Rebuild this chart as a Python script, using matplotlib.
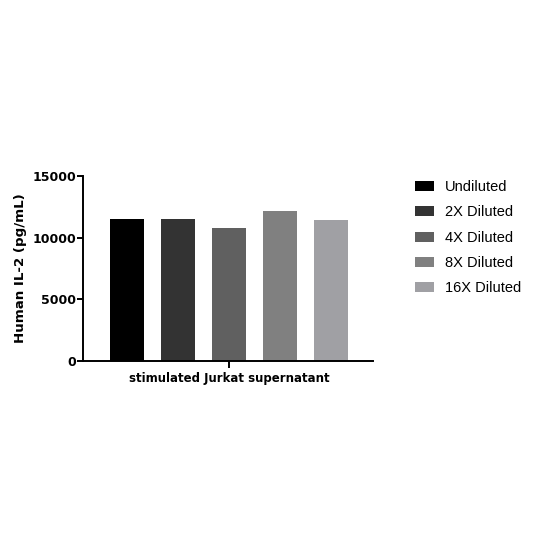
import matplotlib
matplotlib.use('Agg')
import matplotlib.pyplot as plt
import numpy as np

# data
group = 'stimulated Jurkat supernatant'
series = ['Undiluted', '2X Diluted', '4X Diluted', '8X Diluted', '16X Diluted']
values = [11500, 11500, 10800, 12150, 11450]
colors = ['#000000', '#333333', '#606060', '#808080', '#a0a0a4']
yticks = [0, 5000, 10000, 15000]

fig = plt.figure(figsize=(5.48, 5.48), dpi=100)
ax = fig.add_axes([0.1515, 0.3412, 0.5292, 0.3376])

offsets = np.arange(len(series)) - (len(series) - 1) / 2
handles = []
for off, name, val, c in zip(offsets, series, values, colors):
    h = ax.bar(off, val, width=0.667, color=c, label=name)
    handles.append(h)

ax.set_xlim(-2.86, 2.82)
ax.set_ylim(0, 15000)
ax.set_xticks([0])
ax.set_xticklabels([group], fontsize=8.5, fontweight='bold')
ax.set_yticks(yticks)
ax.set_yticklabels([str(t) for t in yticks], fontsize=9, fontweight='bold')
ax.set_ylabel('Human IL-2 (pg/mL)', fontsize=9.6, fontweight='bold', labelpad=4)

for s in ['top', 'right']:
    ax.spines[s].set_visible(False)
for s in ['left', 'bottom']:
    ax.spines[s].set_linewidth(1.4)
ax.tick_params(axis='y', width=1.4, length=4, pad=1)
ax.tick_params(axis='x', width=1.4, length=5, pad=3)

fig.legend(handles=handles, labels=series, loc='upper left',
           bbox_to_anchor=(0.734, 0.695), frameon=False,
           prop={'family': 'Liberation Sans', 'size': 10.5},
           handlelength=1.3, handleheight=0.7, handletextpad=0.75,
           labelspacing=0.77)

fig.savefig('out.png', dpi=100)
